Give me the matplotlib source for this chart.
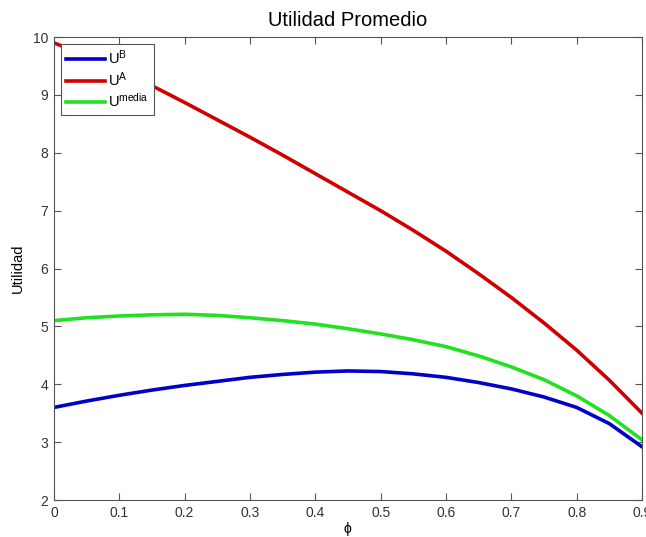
import matplotlib
matplotlib.use("Agg")
import matplotlib.pyplot as plt

# valores
phi = [0.0, 0.05, 0.1, 0.15, 0.2, 0.25, 0.3, 0.35, 0.4, 0.45,
       0.5, 0.55, 0.6, 0.65, 0.7, 0.75, 0.8, 0.85, 0.9]
u_b = [3.60, 3.71, 3.81, 3.90, 3.98, 4.05, 4.12, 4.17, 4.21, 4.23,
       4.22, 4.18, 4.12, 4.03, 3.92, 3.78, 3.60, 3.32, 2.92]
u_a = [9.90, 9.68, 9.43, 9.16, 8.87, 8.57, 8.27, 7.96, 7.64, 7.32,
       7.00, 6.66, 6.30, 5.91, 5.50, 5.06, 4.59, 4.07, 3.50]
u_media = [5.10, 5.15, 5.18, 5.20, 5.21, 5.19, 5.15, 5.10, 5.04, 4.96,
           4.87, 4.77, 4.65, 4.49, 4.30, 4.08, 3.80, 3.46, 3.04]

xticks = [0, 0.1, 0.2, 0.3, 0.4, 0.5, 0.6, 0.7, 0.8, 0.9]
xticklabels = ['0', '0.1', '0.2', '0.3', '0.4', '0.5', '0.6', '0.7', '0.8', '0.9']
yticks = [2, 3, 4, 5, 6, 7, 8, 9, 10]

plt.rcParams['font.family'] = ['Liberation Sans', 'DejaVu Sans']
plt.rcParams['mathtext.default'] = 'regular'

fig = plt.figure(figsize=(6.46, 5.37), dpi=100)
ax = fig.add_axes([0.0836, 0.0689, 0.9102, 0.862])

ax.plot(phi, u_b, color='#0000c8', lw=2.6, label=r'U$^{B}$')
ax.plot(phi, u_a, color='#d00000', lw=2.6, label=r'U$^{A}$')
ax.plot(phi, u_media, color='#22e022', lw=2.6, label=r'U$^{media}$')

ax.set_xlim(0, 0.9)
ax.set_ylim(2, 10)
ax.set_xticks(xticks)
ax.set_xticklabels(xticklabels)
ax.set_yticks(yticks)

for s in ax.spines.values():
    s.set_color('#555555')
    s.set_linewidth(0.8)
ax.tick_params(direction='in', top=True, right=True, length=5,
               color='#555555', labelcolor='#333333', labelsize=10, pad=4)

ax.set_title('Utilidad Promedio', fontsize=14.5, pad=8)
ax.set_ylabel('Utilidad', fontsize=10.5, labelpad=6)
ax.set_xlabel(r'$\phi$', fontsize=10, labelpad=0)

leg = ax.legend(loc='upper left', fontsize=10.5, fancybox=False, framealpha=1,
                handlelength=2.7, borderaxespad=0.45, labelspacing=0.2,
                handletextpad=0.2, borderpad=0.35)
leg.get_frame().set_edgecolor('#555555')
leg.get_frame().set_linewidth(0.8)

fig.savefig('out.png', dpi=100)
